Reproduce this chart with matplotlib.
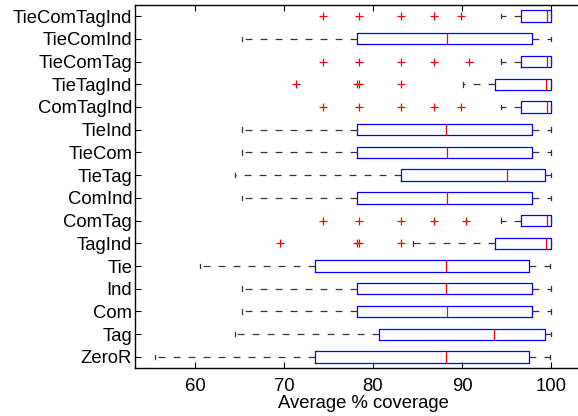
import matplotlib
matplotlib.use("Agg")
import matplotlib.pyplot as plt

plt.rcParams['font.family'] = ['Liberation Sans', 'DejaVu Sans']

labels = ["ZeroR", "Tag", "Com", "Ind", "Tie", "TagInd", "ComTag", "ComInd",
          "TieTag", "TieCom", "TieInd", "ComTagInd", "TieTagInd", "TieComTag",
          "TieComInd", "TieComTagInd"]
whislo = [55.5, 64.5, 65.3, 65.3, 60.6, 84.5, 94.4, 65.3, 64.5, 65.3, 65.3, 94.4, 90.1, 94.4, 65.3, 94.4]
q1 = [73.5, 80.7, 78.2, 78.2, 73.5, 93.7, 96.6, 78.2, 83.15, 78.2, 78.2, 96.6, 93.7, 96.6, 78.2, 96.6]
med = [88.2, 93.6, 88.35, 88.2, 88.2, 99.4, 99.5, 88.35, 95.05, 88.35, 88.2, 99.5, 99.4, 99.5, 88.35, 99.5]
q3 = [97.5, 99.3, 97.9, 97.9, 97.5, 100, 100, 97.9, 99.33, 97.9, 97.9, 100, 100, 100, 97.9, 100]
whishi = [99.9, 100, 100, 100, 99.9, 100, 100, 100, 100, 100, 100, 100, 100, 100, 100, 100]
fliers = [
    [], [], [], [], [],
    [69.6, 78.2, 78.46, 83.15],
    [74.35, 78.46, 83.15, 86.8, 90.5],
    [], [], [], [],
    [74.35, 78.46, 83.15, 86.8, 89.9],
    [71.35, 78.2, 78.46, 83.15],
    [74.35, 78.46, 83.15, 86.8, 90.77],
    [],
    [74.35, 78.46, 83.15, 86.8, 89.9],
]
xticks = [60, 70, 80, 90, 100]

stats = []
for i in range(len(labels)):
    stats.append(dict(label=labels[i], whislo=whislo[i], q1=q1[i], med=med[i],
                      q3=q3[i], whishi=whishi[i], fliers=fliers[i]))

fig = plt.figure(figsize=(5.78, 4.16), dpi=100)
W, H = 578, 416
px_per_unit = (551 - 195) / 40.0
left_px, top_px, bot_px = 135, 4.7, 368.3
xmin = 60 - (195 - left_px) / px_per_unit
xmax = 104.5
right_px = 551 + (xmax - 100) * px_per_unit
ax = fig.add_axes([left_px / W, 1 - bot_px / H, (right_px - left_px) / W, (bot_px - top_px) / H])

positions = list(range(1, len(labels) + 1))
ax.bxp(stats, positions=positions, vert=False, widths=0.5, capwidths=0.2,
       showfliers=True, patch_artist=False,
       boxprops=dict(color='#0000ff', linewidth=0.9),
       medianprops=dict(color='#ff0000', linewidth=0.9),
       whiskerprops=dict(color='#333333', linewidth=0.9, linestyle=(0, (5.5, 6.5))),
       capprops=dict(color='#333333', linewidth=0.9),
       flierprops=dict(marker='+', markeredgecolor='#ff0000', markersize=6,
                       markeredgewidth=0.9, linestyle='none'))

ax.set_xlim(xmin, xmax)
ax.set_ylim(0.5, 16.5)
ax.set_xticks(xticks)
ax.set_xticklabels([str(t) for t in xticks])
ax.set_yticks(positions)
ax.set_yticklabels(labels)
ax.tick_params(direction='in', top=True, right=True, labelsize=13.3, length=4, width=0.8)
ax.tick_params(axis='x', pad=7)
ax.tick_params(axis='y', pad=2)
for s in ax.spines.values():
    s.set_linewidth(1.0)
ax.set_xlabel("Average % coverage", fontsize=13.3, labelpad=0)

fig.savefig("out.png", dpi=100)
